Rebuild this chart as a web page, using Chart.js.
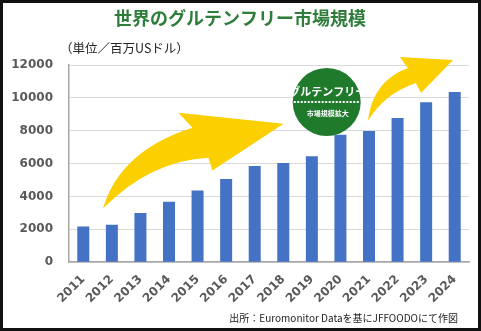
<!DOCTYPE html>
<html>
<head>
<meta charset="utf-8">
<script src="https://cdn.jsdelivr.net/npm/chart.js@4/dist/chart.umd.min.js"></script>
<style>
  html, body { margin: 0; padding: 0; background: #fff; }
  canvas { display: block; }
</style>
</head>
<body>
<canvas id="marketChart" width="481" height="331"></canvas>
<script>
const years = ['2011','2012','2013','2014','2015','2016','2017','2018','2019','2020','2021','2022','2023','2024'];
const marketSize = [2180, 2280, 2990, 3680, 4360, 5070, 5860, 6040, 6440, 7760, 7980, 8770, 9740, 10350];
const yTicks = [0, 2000, 4000, 6000, 8000, 10000, 12000];

const titleText = '世界のグルテンフリー市場規模';
const unitText = '（単位／百万USドル）';
const sourceText = '出所：Euromonitor Dataを基にJFFOODOにて作図';
const badgeTop = 'グルテンフリー';
const badgeBottom = '市場規模拡大';

const JP = '"Noto Sans CJK JP", sans-serif';

// arrow outlines as [category index, value] so they follow the scales
const arrowLow = {
  tail: [0.69, 3270], upCtrl: [1.29, 6790], upJoint: [3.82, 8180], upBarb: [3.33, 9090],
  tip: [7.01, 8420], lowBarb: [4.52, 5580], lowJoint: [4.38, 6360], lowCtrl: [2.34, 6180]
};
const arrowHigh = {
  tail: [9.96, 8600], upCtrl: [10.13, 11030], upJoint: [11.36, 11820], upBarb: [11.08, 12480],
  tip: [12.94, 12300], lowBarb: [11.82, 10300], lowJoint: [11.64, 10910], lowCtrl: [10.52, 10240]
};

function drawArrow(ctx, chart, a) {
  const xs = chart.scales.x, ys = chart.scales.y;
  const p = k => [xs.getPixelForValue(a[k][0]), ys.getPixelForValue(a[k][1])];
  ctx.beginPath();
  ctx.moveTo(...p('tail'));
  ctx.quadraticCurveTo(...p('upCtrl'), ...p('upJoint'));
  ctx.lineTo(...p('upBarb'));
  ctx.lineTo(...p('tip'));
  ctx.lineTo(...p('lowBarb'));
  ctx.lineTo(...p('lowJoint'));
  ctx.quadraticCurveTo(...p('lowCtrl'), ...p('tail'));
  ctx.closePath();
  ctx.fillStyle = '#fcd000';
  ctx.fill();
}

const decorations = {
  id: 'decorations',
  beforeDraw(chart) {
    const ctx = chart.ctx;
    ctx.save();
    ctx.fillStyle = '#fff';
    ctx.fillRect(0, 0, chart.width, chart.height);
    ctx.restore();
  },
  afterDatasetsDraw(chart) {
    const ctx = chart.ctx;
    const xs = chart.scales.x, ys = chart.scales.y;
    ctx.save();
    drawArrow(ctx, chart, arrowLow);
    drawArrow(ctx, chart, arrowHigh);

    // green badge
    const cx = xs.getPixelForValue(8.52), cy = ys.getPixelForValue(9750);
    ctx.beginPath();
    ctx.arc(cx, cy, 34, 0, Math.PI * 2);
    ctx.fillStyle = '#1f7a2c';
    ctx.fill();
    ctx.fillStyle = '#fff';
    ctx.textAlign = 'center';
    ctx.textBaseline = 'middle';
    ctx.font = 'bold 11px ' + JP;
    ctx.fillText(badgeTop, cx + 1, cy - 10);
    ctx.strokeStyle = '#fff';
    ctx.lineWidth = 2;
    ctx.setLineDash([2, 1.5]);
    ctx.beginPath();
    ctx.moveTo(cx - 33, cy);
    ctx.lineTo(cx + 33, cy);
    ctx.stroke();
    ctx.setLineDash([]);
    ctx.font = 'bold 7px ' + JP;
    ctx.fillText(badgeBottom, cx + 1, cy + 11);
    ctx.restore();
  },
  afterDraw(chart) {
    const ctx = chart.ctx;
    ctx.save();
    ctx.fillStyle = '#2f7d3a';
    ctx.textAlign = 'center';
    ctx.textBaseline = 'middle';
    ctx.font = 'bold 18px ' + JP;
    ctx.fillText(titleText, 240, 18);

    ctx.fillStyle = '#222';
    ctx.textAlign = 'left';
    ctx.font = '12.5px ' + JP;
    ctx.fillText(unitText, 60, 48);

    ctx.textAlign = 'right';
    ctx.font = '10px ' + JP;
    ctx.fillText(sourceText, 458, 318);

    ctx.strokeStyle = '#111';
    ctx.lineWidth = 3;
    ctx.strokeRect(1.5, 1.5, chart.width - 3, chart.height - 3);
    ctx.restore();
  }
};

new Chart(document.getElementById('marketChart'), {
  type: 'bar',
  data: {
    labels: years,
    datasets: [{
      data: marketSize,
      backgroundColor: '#4472c4',
      borderWidth: 0,
      categoryPercentage: 1,
      barPercentage: 0.42
    }]
  },
  options: {
    responsive: false,
    animation: false,
    layout: { padding: { left: 0, right: 12, top: 65, bottom: 23 } },
    scales: {
      x: {
        grid: { display: false },
        border: { color: '#a6a6a6', width: 1.5 },
        ticks: {
          color: '#595959',
          font: { family: 'DejaVu Sans', weight: 'bold', size: 12 },
          minRotation: 45,
          maxRotation: 45,
          padding: 2
        }
      },
      y: {
        min: 0,
        max: 12000,
        afterBuildTicks: axis => { axis.ticks = yTicks.map(v => ({ value: v })); },
        afterFit: axis => { axis.width = 69; },
        grid: { color: '#d9d9d9', drawTicks: false },
        border: { color: '#a6a6a6', width: 1.5 },
        ticks: {
          color: '#595959',
          font: { family: 'DejaVu Sans', weight: 'bold', size: 12 },
          padding: 16,
          callback: v => String(v)
        }
      }
    },
    plugins: {
      legend: { display: false },
      tooltip: { enabled: false }
    }
  },
  plugins: [decorations]
});
</script>
</body>
</html>
